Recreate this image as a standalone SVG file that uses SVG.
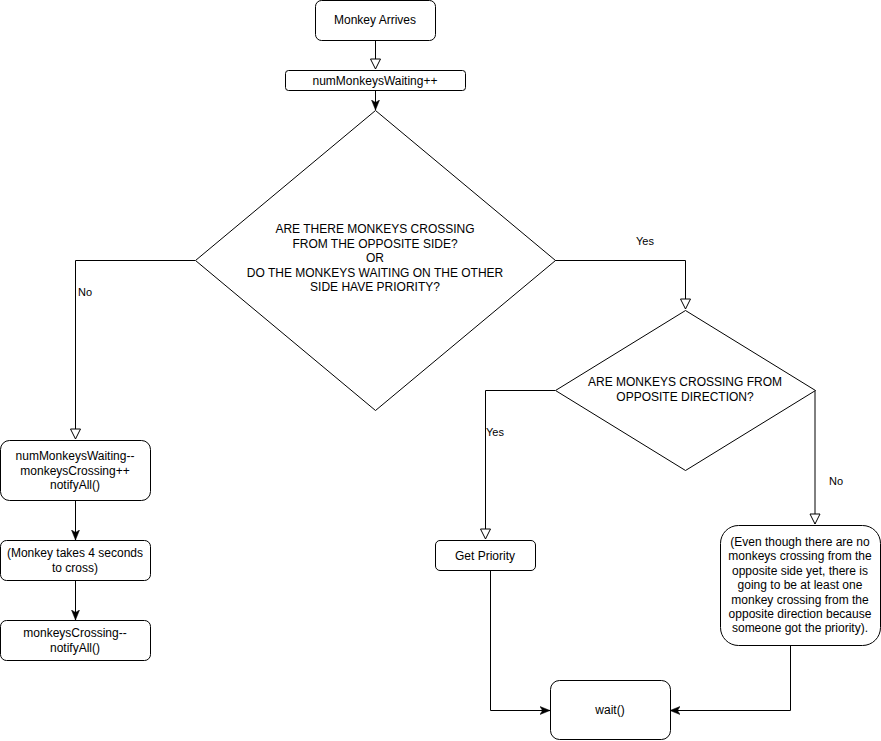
<svg xmlns="http://www.w3.org/2000/svg" width="881" height="741" viewBox="0 0 881 741">
<style>
.n{fill:#fff;stroke:#000;stroke-width:1}
.t{font-family:"Liberation Sans",Arial,sans-serif;font-size:12px;fill:#000;text-anchor:middle}
.l{font-family:"Liberation Sans",Arial,sans-serif;font-size:11px;fill:#000}
.c{fill:none;stroke:#000;stroke-width:1}
</style>
<defs>
<marker id="ho" markerUnits="userSpaceOnUse" markerWidth="12" markerHeight="12" refX="10" refY="5" orient="auto" viewBox="-1 -1 12 12">
<path d="M0,0 L10,5 L0,10 Z" fill="#fff" stroke="#000" stroke-width="1"/>
</marker>
<marker id="cl" markerUnits="userSpaceOnUse" markerWidth="12" markerHeight="10" refX="10" refY="4" orient="auto" viewBox="0 0 12 8">
<path d="M0,0 L10,4 L0,8 L2.5,4 Z" fill="#000" stroke="#000" stroke-width="0.5"/>
</marker>
</defs>
<rect width="881" height="741" fill="#fff"/>
<g id="connectors">
<path class="c" d="M375.5,40 V69" marker-end="url(#ho)"/>
<path class="c" d="M375.5,90 V110" marker-end="url(#cl)"/>
<path class="c" d="M195,260.5 H75.5 V439" marker-end="url(#ho)"/>
<path class="c" d="M555,260.5 H685.5 V309" marker-end="url(#ho)"/>
<path class="c" d="M75.5,500 V540" marker-end="url(#cl)"/>
<path class="c" d="M75.5,580 V620" marker-end="url(#cl)"/>
<path class="c" d="M555,390.5 H485.5 V539" marker-end="url(#ho)"/>
<path class="c" d="M815,390.5 V524" marker-end="url(#ho)"/>
<path class="c" d="M490.5,570 V710.5 H550" marker-end="url(#cl)"/>
<path class="c" d="M790.5,645 V710.5 H670" marker-end="url(#cl)"/>
<text class="l" x="636" y="245">Yes</text>
<text class="l" x="78" y="296">No</text>
<text class="l" x="486" y="436">Yes</text>
<text class="l" x="829" y="485">No</text>
</g>
<g id="monkeyArrives">
<rect class="n" x="315.5" y="0.5" width="120" height="40" rx="6"/>
<text class="t" x="375" y="24">Monkey Arrives</text>
</g>
<g id="incWaiting">
<rect class="n" x="285.5" y="70.5" width="180" height="20" rx="3"/>
<text class="t" x="375" y="85">numMonkeysWaiting++</text>
</g>
<g id="decision1">
<path class="n" d="M375.5,110.5 L555.5,260.5 L375.5,410.5 L195.5,260.5 Z"/>
<text class="t" x="375" y="233">ARE THERE MONKEYS CROSSING</text>
<text class="t" x="375" y="247.5">FROM THE OPPOSITE SIDE?</text>
<text class="t" x="375" y="262">OR</text>
<text class="t" x="375" y="276.5">DO THE MONKEYS WAITING ON THE OTHER</text>
<text class="t" x="375" y="291">SIDE HAVE PRIORITY?</text>
</g>
<g id="cross">
<rect class="n" x="0.5" y="440.5" width="150" height="60" rx="9"/>
<text class="t" x="75" y="460">numMonkeysWaiting--</text>
<text class="t" x="75" y="474.5">monkeysCrossing++</text>
<text class="t" x="75" y="489">notifyAll()</text>
</g>
<g id="takes4">
<rect class="n" x="0.5" y="540.5" width="150" height="40" rx="6"/>
<text class="t" x="75" y="557">(Monkey takes 4 seconds</text>
<text class="t" x="75" y="571.5">to cross)</text>
</g>
<g id="decCrossing">
<rect class="n" x="0.5" y="620.5" width="150" height="40" rx="6"/>
<text class="t" x="75" y="637">monkeysCrossing--</text>
<text class="t" x="75" y="651.5">notifyAll()</text>
</g>
<g id="decision2">
<path class="n" d="M685.5,310.5 L815.5,390.5 L685.5,470.5 L555.5,390.5 Z"/>
<text class="t" x="685" y="386">ARE MONKEYS CROSSING FROM</text>
<text class="t" x="685" y="400.5">OPPOSITE DIRECTION?</text>
</g>
<g id="getPriority">
<rect class="n" x="435.5" y="540.5" width="100" height="30" rx="4.5"/>
<text class="t" x="485" y="560">Get Priority</text>
</g>
<g id="evenThough">
<rect class="n" x="720.5" y="525.5" width="160" height="120" rx="18"/>
<text class="t" x="800" y="546">(Even though there are no</text>
<text class="t" x="800" y="560.4">monkeys crossing from the</text>
<text class="t" x="800" y="574.8">opposite side yet, there is</text>
<text class="t" x="800" y="589.2">going to be at least one</text>
<text class="t" x="800" y="603.6">monkey crossing from the</text>
<text class="t" x="800" y="618">opposite direction because</text>
<text class="t" x="800" y="632.4">someone got the priority).</text>
</g>
<g id="wait">
<rect class="n" x="550.5" y="680.5" width="120" height="59" rx="9"/>
<text class="t" x="610" y="714">wait()</text>
</g>
</svg>
